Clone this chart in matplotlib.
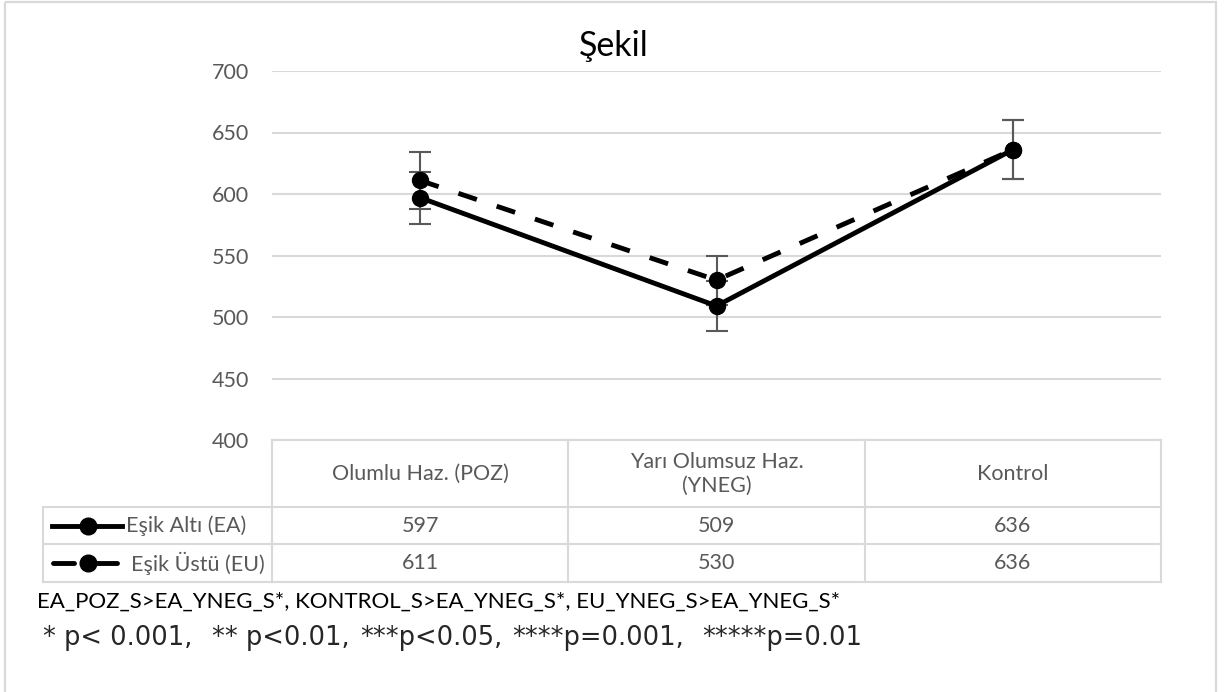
import matplotlib
matplotlib.use("Agg")
import matplotlib.pyplot as plt
from matplotlib.lines import Line2D
from matplotlib.patches import Rectangle

# ---- data ----
categories = ["Olumlu Haz. (POZ)", "Yarı Olumsuz Haz.\n(YNEG)", "Kontrol"]
series_names = ["Eşik Altı (EA)", "Eşik Üstü (EU)"]
ea_values = [597, 509, 636]
eu_values = [611, 530, 636]
ea_err = [21, 20, 24]
eu_err = [23, 20, 24]
yticks = [400, 450, 500, 550, 600, 650, 700]
title = "Şekil"
note1 = "EA_POZ_S>EA_YNEG_S*, KONTROL_S>EA_YNEG_S*, EU_YNEG_S>EA_YNEG_S*"
note2_parts = ["* p< 0.001,", "** p<0.01,", "***p<0.05,", "****p=0.001,", "*****p=0.01"]

W, H = 1227, 692
FONT = ["Lato", "DejaVu Sans"]
plt.rcParams['font.family'] = FONT
GRAY = "#595959"
GRID = "#d9d9d9"
LW = 3.5

fig = plt.figure(figsize=(W / 100, H / 100), dpi=100)

# overlay axes in pixel coordinates
ov = fig.add_axes([0, 0, 1, 1])
ov.set_xlim(0, W)
ov.set_ylim(H, 0)
ov.axis("off")

# outer border
ov.add_patch(Rectangle((5, 2), 1211, 700, fill=False, edgecolor="#d9d9d9", lw=1.6))

# main axes
x0, x1, ytop, ybot = 272, 1161, 71, 440
ax = fig.add_axes([x0 / W, 1 - ybot / H, (x1 - x0) / W, (ybot - ytop) / H])
ax.set_xlim(-0.5, len(categories) - 0.5)
ax.set_ylim(400, 700)
ax.set_yticks(yticks)
ax.set_xticks([])
for s in ax.spines.values():
    s.set_visible(False)
ax.tick_params(axis="y", length=0, pad=16.5, labelsize=15.5, labelcolor=GRAY)
ax.yaxis.grid(True, color=GRID, lw=1.5)
ax.set_axisbelow(True)
ax.patch.set_alpha(0)

xs = list(range(len(categories)))
ax.errorbar(xs, ea_values, yerr=ea_err, fmt="none", ecolor=GRAY, elinewidth=1.5,
            capsize=8, capthick=1.5, zorder=2)
ax.errorbar(xs, eu_values, yerr=eu_err, fmt="none", ecolor=GRAY, elinewidth=1.5,
            capsize=8, capthick=1.5, zorder=2)
ax.plot(xs, eu_values, color="black", lw=LW, dashes=[4.0, 4.3], marker="o",
        markersize=11.5, zorder=3, clip_on=False)
ax.plot(xs, ea_values, color="black", lw=LW, marker="o", markersize=11.5, zorder=4,
        clip_on=False)

fig.text(0.5, 1 - 46 / H, title, ha="center", va="center", fontsize=24.5, color="black")

# ---- table ----
lc = "#d9d9d9"
lw = 1.5
tleft = 43
hdr_top, hdr_bot = 440, 507
rows_y = [507, 544, 582]
col_w = (x1 - x0) / len(categories)
col_x = [x0 + i * col_w for i in range(len(categories) + 1)]

ov.plot([x0, x1], [hdr_top, hdr_top], color=lc, lw=lw)
for cx in col_x:
    ov.plot([cx, cx], [hdr_top, rows_y[-1]], color=lc, lw=lw)
for ry in rows_y:
    ov.plot([tleft, x1], [ry, ry], color=lc, lw=lw)
ov.plot([tleft, tleft], [rows_y[0], rows_y[-1]], color=lc, lw=lw)

for i, c in enumerate(categories):
    ov.text((col_x[i] + col_x[i + 1]) / 2, (hdr_top + hdr_bot) / 2, c,
            ha="center", va="center", fontsize=15.5, color=GRAY, linespacing=1.25)

for r, (vals, name) in enumerate([(ea_values, series_names[0]), (eu_values, series_names[1])]):
    yc = (rows_y[r] + rows_y[r + 1]) / 2
    for i, v in enumerate(vals):
        ov.text((col_x[i] + col_x[i + 1]) / 2, yc, str(v), ha="center", va="center",
                fontsize=15.5, color=GRAY)
    if r == 0:
        ov.add_line(Line2D([52, 122], [yc, yc], color="black", lw=LW))
        ov.text(126, yc, name, ha="left", va="center", fontsize=15.5, color=GRAY)
    else:
        ov.add_line(Line2D([53, 74], [yc, yc], color="black", lw=LW, solid_capstyle="round"))
        ov.add_line(Line2D([96, 117], [yc, yc], color="black", lw=LW, solid_capstyle="round"))
        ov.text(131, yc, name, ha="left", va="center", fontsize=15.5, color=GRAY)
    ov.plot([88], [yc], marker="o", color="black", markersize=12)

ov.text(37, 602, note1, ha="left", va="center", fontsize=16, color="black")
note2_x = [43, 212, 360, 512, 702]
for part, px in zip(note2_parts, note2_x):
    ov.text(px, 638, part, ha="left", va="center", fontsize=18.5, color="#262626",
            family=["DejaVu Sans"])

fig.savefig("out.png", dpi=100)
